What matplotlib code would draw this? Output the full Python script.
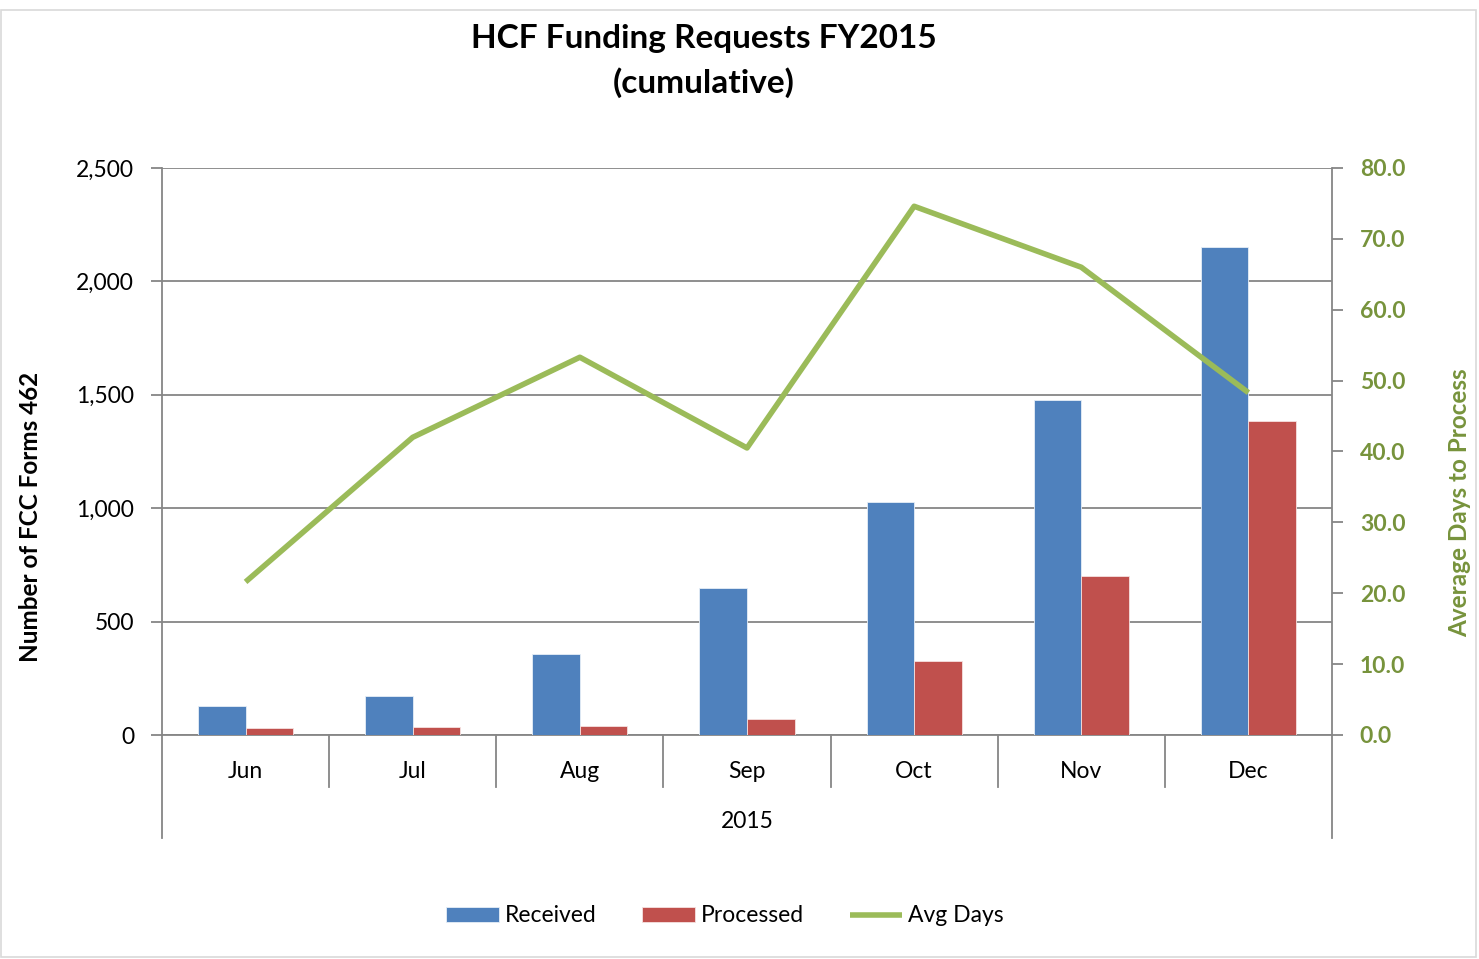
import matplotlib
matplotlib.use("Agg")
import matplotlib.pyplot as plt
from matplotlib.patches import Rectangle
import numpy as np

months = ["Jun", "Jul", "Aug", "Sep", "Oct", "Nov", "Dec"]
received = [128, 172, 357, 648, 1027, 1477, 2152]
processed = [31, 35, 40, 70, 326, 701, 1384]
avg_days = [21.6, 42.0, 53.3, 40.5, 74.6, 66.0, 48.3]
year_label = "2015"

plt.rcParams['font.family'] = ['Lato', 'DejaVu Sans']

BLUE = "#4F81BD"
RED = "#C0504D"
GREEN = "#9BBB59"
DKGREEN = "#77933C"
GRID = "#868686"
FS = 16.5

fig = plt.figure(figsize=(14.79, 9.59), dpi=100)
fig.patches.append(Rectangle((0.001, 0.002), 0.997, 0.988, transform=fig.transFigure,
                             fill=False, edgecolor="#D9D9D9", linewidth=1.2))

ax = fig.add_axes([162/1479, 1-735/959, (1332-162)/1479, (735-168)/959])
ax2 = ax.twinx()

x = np.arange(len(months))
w = 0.285
ax.bar(x - w/2, received, width=w, color=BLUE, edgecolor="#E6EEF7", linewidth=0.6, label="Received", zorder=3)
ax.bar(x + w/2, processed, width=w, color=RED, edgecolor="#F5E1E0", linewidth=0.6, label="Processed", zorder=3)
ax2.plot(x, avg_days, color=GREEN, linewidth=4, label="Avg Days", zorder=4, solid_capstyle='butt')

ax.set_xlim(-0.5, len(months) - 0.5)
ax.set_ylim(0, 2500)
ax.set_yticks([0, 500, 1000, 1500, 2000, 2500])
ax.set_yticklabels(["0", "500", "1,000", "1,500", "2,000", "2,500"])
ax2.set_ylim(0, 80)
ax2.set_yticks(np.arange(0, 81, 10))
ax2.set_yticklabels([f"{v:.1f}" for v in np.arange(0, 81, 10)])

ax.grid(axis='y', color=GRID, linewidth=1.3, zorder=0)
ax.set_axisbelow(True)
for s in ["top"]:
    ax.spines[s].set_visible(False)
    ax2.spines[s].set_visible(False)
ax2.spines["left"].set_visible(False)
ax2.spines["bottom"].set_visible(False)
ax.spines["right"].set_visible(False)
for sp in [ax.spines["left"], ax.spines["bottom"], ax2.spines["right"]]:
    sp.set_color(GRID)
    sp.set_linewidth(1.3)

ax.tick_params(axis='y', direction='out', length=8, width=1.3, color=GRID, labelsize=FS, pad=12)
ax2.tick_params(axis='y', direction='out', length=8, width=1.3, color=GRID, labelsize=FS,
                labelcolor=DKGREEN, pad=12)
for t in ax2.get_yticklabels():
    t.set_fontweight('bold')

ax.set_xticks([])
trans = ax.get_xaxis_transform()
# category separators
for b in np.arange(0.5, len(months) - 0.5, 1.0):
    ax.plot([b, b], [0, -0.0917], transform=trans, color=GRID, linewidth=1.3, clip_on=False)
for b in [-0.5, len(months) - 0.5]:
    ax.plot([b, b], [0, -0.1817], transform=trans, color=GRID, linewidth=1.3, clip_on=False)
for xi, m in zip(x, months):
    ax.text(xi, -0.0635, m, transform=trans, ha='center', va='center', fontsize=FS)
ax.text((len(months) - 1) / 2, -0.153, year_label, transform=trans, ha='center', va='center', fontsize=FS)

fig.text(31/1479, 1-517/959, "Number of FCC Forms 462", rotation=90, ha='center', va='center',
         fontsize=17.5, fontweight='bold')
fig.text(1460/1479, 1-503/959, "Average Days to Process", rotation=90, ha='center', va='center',
         fontsize=17.5, fontweight='bold', color=DKGREEN)

fig.text(704/1479, 1-61/959, "HCF Funding Requests FY2015\n(cumulative)", ha='center', va='center',
         fontsize=24, fontweight='bold', linespacing=1.55)

h1, l1 = ax.get_legend_handles_labels()
h2, l2 = ax2.get_legend_handles_labels()
fig.legend(h1 + h2, l1 + l2, loc='center', bbox_to_anchor=(725/1479, 1-916/959), ncol=3,
           frameon=False, fontsize=FS, handlelength=2.3, handleheight=0.65, handletextpad=0.25,
           columnspacing=2.0)

fig.savefig("out.png", dpi=100)
